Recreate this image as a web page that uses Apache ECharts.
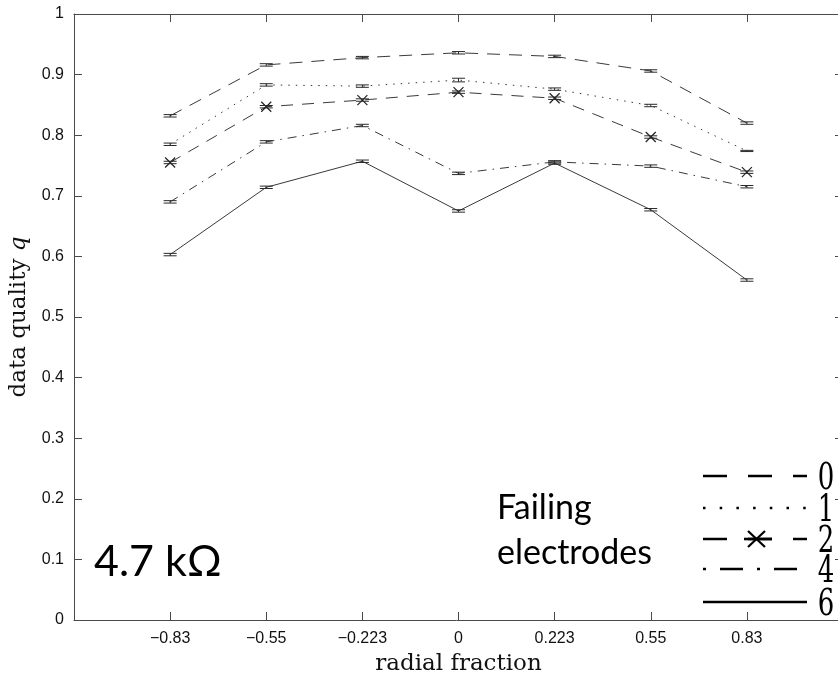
<!DOCTYPE html>
<html>
<head>
<meta charset="utf-8">
<script src="https://cdn.jsdelivr.net/npm/echarts@6/dist/echarts.min.js"></script>
<style>
  html, body { margin: 0; padding: 0; background: #fff; }
  #chart { width: 838px; height: 675px; }
</style>
</head>
<body>
<div id="chart"></div>
<script>
// Radial positions of the measurement points (tick labels on the x axis)
const radialTicks = ['\u22120.83', '\u22120.55', '\u22120.223', '0', '0.223', '0.55', '0.83'];

// Data quality q for each number of failing electrodes
const failing0 = [0.832, 0.916, 0.928, 0.936, 0.930, 0.906, 0.820];
const failing1 = [0.785, 0.883, 0.881, 0.891, 0.876, 0.849, 0.774];
const failing2 = [0.755, 0.847, 0.858, 0.871, 0.861, 0.797, 0.739];
const failing4 = [0.690, 0.789, 0.816, 0.737, 0.756, 0.749, 0.715];
const failing6 = [0.603, 0.714, 0.757, 0.675, 0.754, 0.677, 0.561];

// Half-height of the error bars
const err0 = [0.002, 0.002, 0.002, 0.002, 0.002, 0.002, 0.002];
const err1 = [0.002, 0.002, 0.002, 0.003, 0.002, 0.002, 0.001];
const err2 = [0.002, 0.002, 0.002, 0.002, 0.002, 0.002, 0.002];
const err4 = [0.002, 0.002, 0.002, 0.002, 0.002, 0.002, 0.002];
const err6 = [0.002, 0.002, 0.002, 0.002, 0.002, 0.002, 0.002];

const seriesNames = ['0', '1', '2', '4', '6'];
const seriesValues = [failing0, failing1, failing2, failing4, failing6];
const seriesErrors = [err0, err1, err2, err4, err6];

const LINE = '#3a3a3a';
const dashStyles = [
  [13, 9],          // 0 : dashed
  [1.5, 6],         // 1 : dotted
  [12, 9],          // 2 : dashed with crosses
  [9, 6, 1.5, 6],   // 4 : dash-dot
  'solid'           // 6 : solid
];
const crossSymbol = 'path://M0,0L10,10M10,0L0,10';

const chart = echarts.init(document.getElementById('chart'), null, { renderer: 'canvas' });

const lineSeries = seriesValues.map((vals, k) => ({
  name: seriesNames[k],
  type: 'line',
  xAxisIndex: 0,
  yAxisIndex: 0,
  data: vals.map((v, i) => [i + 1, v]),
  symbol: k === 2 ? crossSymbol : 'none',
  symbolSize: 10,
  showSymbol: k === 2,
  itemStyle: { color: 'rgba(0,0,0,0)', borderColor: '#222', borderWidth: 1.2 },
  lineStyle: { color: LINE, width: 1, type: dashStyles[k] },
  animation: false,
  silent: true,
  z: 2
}));

const errorSeries = seriesValues.map((vals, k) => ({
  name: seriesNames[k] + ' error',
  type: 'custom',
  xAxisIndex: 0,
  yAxisIndex: 0,
  data: vals.map((v, i) => [i + 1, v, seriesErrors[k][i]]),
  renderItem: function (params, api) {
    const x = api.value(0), y = api.value(1), e = api.value(2);
    const hi = api.coord([x, y + e]);
    const lo = api.coord([x, y - e]);
    const hw = 6.5;
    const st = { stroke: '#2a2a2a', lineWidth: 1 };
    return {
      type: 'group',
      children: [
        { type: 'line', shape: { x1: hi[0] - hw, y1: hi[1], x2: hi[0] + hw, y2: hi[1] }, style: st },
        { type: 'line', shape: { x1: lo[0] - hw, y1: lo[1], x2: lo[0] + hw, y2: lo[1] }, style: st },
        { type: 'line', shape: { x1: hi[0], y1: hi[1], x2: lo[0], y2: lo[1] }, style: st }
      ]
    };
  },
  animation: false,
  silent: true,
  z: 3
}));

// Hand-drawn legend block (line samples plus stretched serif numerals)
const legX1 = 703, legX2 = 807;
const legRows = [476, 508, 539, 569, 602];
const legDash = [[24, 21], [2.5, 14.2], [24, 21], [3, 14, 23, 14], null];
const legendGraphics = [];
legRows.forEach((yy, k) => {
  legendGraphics.push({
    type: 'line',
    shape: { x1: legX1, y1: yy, x2: legX2, y2: yy },
    style: { stroke: '#000', lineWidth: 2.6, lineDash: legDash[k] }
  });
  legendGraphics.push({
    type: 'text',
    x: 826, y: yy + 3,
    scaleY: 1.45,
    style: {
      text: seriesNames[k],
      fontFamily: '"DejaVu Serif", "Liberation Serif", serif',
      fontSize: 26,
      fill: '#000',
      align: 'center',
      verticalAlign: 'middle'
    }
  });
});
// cross sitting on the "2" sample line
legendGraphics.push({
  type: 'polyline',
  shape: { points: [[748, 531], [765, 547]] },
  style: { stroke: '#000', lineWidth: 2.2 }
});
legendGraphics.push({
  type: 'polyline',
  shape: { points: [[748, 547], [765, 531]] },
  style: { stroke: '#000', lineWidth: 2.2 }
});
legendGraphics.push({
  type: 'line',
  shape: { x1: 744, y1: 539, x2: 772, y2: 539 },
  style: { stroke: '#000', lineWidth: 2.6 }
});

const annotations = [
  {
    type: 'text', x: 94, y: 562,
    style: {
      text: '4.7 k\u03A9',
      fontFamily: 'Lato, "Noto Sans", "Open Sans", sans-serif',
      fontSize: 43, fill: '#000', align: 'left', verticalAlign: 'middle'
    }
  },
  {
    type: 'text', x: 497, y: 508,
    style: {
      text: 'Failing',
      fontFamily: 'Lato, "Noto Sans", sans-serif',
      fontSize: 34, fill: '#000', align: 'left', verticalAlign: 'middle'
    }
  },
  {
    type: 'text', x: 497, y: 553,
    style: {
      text: 'electrodes',
      fontFamily: 'Lato, "Noto Sans", sans-serif',
      fontSize: 34, fill: '#000', align: 'left', verticalAlign: 'middle'
    }
  }
];

const axisLineStyle = { color: '#4a4a4a', width: 1 };

chart.setOption({
  backgroundColor: '#fff',
  animation: false,
  grid: { left: 74, top: 14, width: 769, height: 606, outerBoundsMode: 'none', containLabel: false },
  xAxis: [
    {
      type: 'value', position: 'bottom', min: 0, max: 8, interval: 1,
      name: 'radial fraction', nameLocation: 'middle', nameGap: 33,
      nameTextStyle: { fontFamily: '"DejaVu Serif", serif', fontSize: 23, color: '#111' },
      axisLine: { show: true, onZero: false, lineStyle: axisLineStyle },
      axisTick: { show: true, inside: true, length: 8, lineStyle: axisLineStyle },
      splitLine: { show: false },
      axisLabel: {
        show: true, margin: 11, color: '#111',
        fontFamily: '"Liberation Sans", Arial, sans-serif', fontSize: 16,
        formatter: v => radialTicks[v - 1] || ''
      }
    },
    {
      type: 'value', position: 'top', min: 0, max: 8, interval: 1,
      axisLine: { show: true, onZero: false, lineStyle: axisLineStyle },
      axisTick: { show: true, inside: true, length: 8, lineStyle: axisLineStyle },
      splitLine: { show: false },
      axisLabel: { show: false }
    }
  ],
  yAxis: [
    {
      type: 'value', position: 'left', min: 0, max: 1, interval: 0.1,
      name: '{a|data quality }{q|q}', nameLocation: 'middle', nameGap: 33,
      nameTextStyle: {
        color: '#111',
        rich: {
          a: { fontFamily: '"DejaVu Serif", serif', fontSize: 23, color: '#111' },
          q: { fontFamily: '"DejaVu Serif", serif', fontSize: 23, fontStyle: 'italic', color: '#111' }
        }
      },
      axisLine: { show: true, onZero: false, lineStyle: axisLineStyle },
      axisTick: { show: true, inside: true, length: 8, lineStyle: axisLineStyle },
      splitLine: { show: false },
      axisLabel: {
        show: true, margin: 10, color: '#111',
        fontFamily: '"Liberation Sans Narrow", "Liberation Sans", Arial, sans-serif', fontSize: 16,
        formatter: v => String(Math.round(v * 10) / 10)
      }
    },
    {
      type: 'value', position: 'right', min: 0, max: 1, interval: 0.1,
      axisLine: { show: true, onZero: false, lineStyle: axisLineStyle },
      axisTick: { show: true, inside: true, length: 8, lineStyle: axisLineStyle },
      splitLine: { show: false },
      axisLabel: { show: false }
    }
  ],
  series: lineSeries.concat(errorSeries),
  graphic: legendGraphics.concat(annotations)
});
</script>
</body>
</html>
